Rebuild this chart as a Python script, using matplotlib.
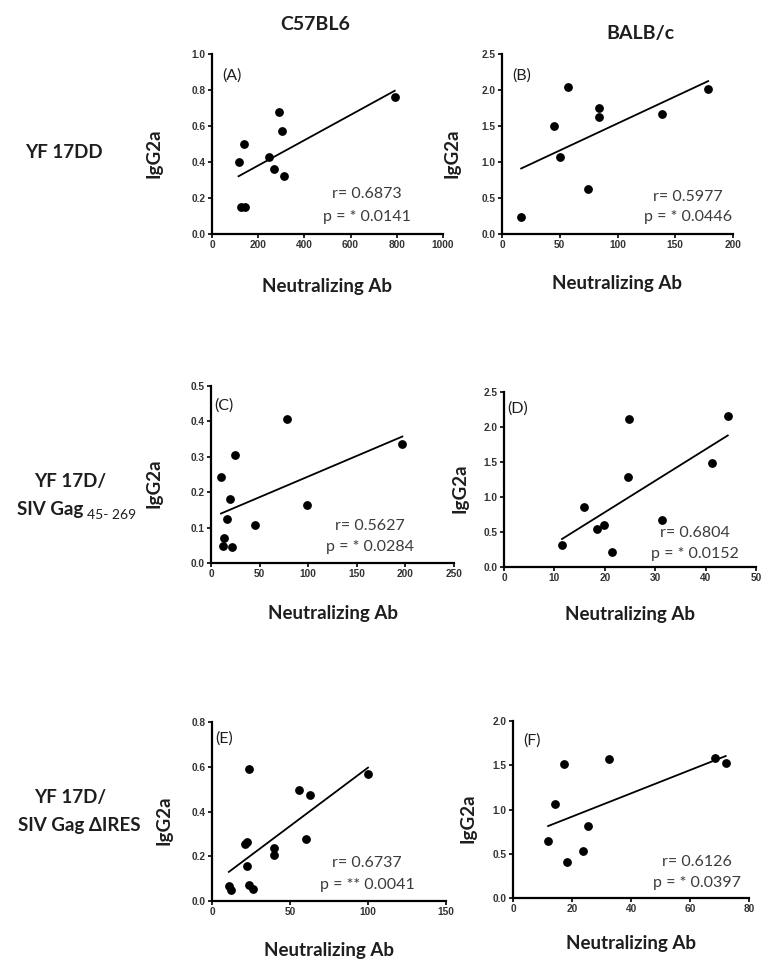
import numpy as np
import matplotlib
matplotlib.use("Agg")
import matplotlib.pyplot as plt

plt.rcParams['font.family'] = ['Lato', 'DejaVu Sans']

W, H = 770, 960

# values, one pair of lists per panel
a_x = [115, 137, 125, 145, 247, 268, 292, 301, 311, 791]
a_y = [0.40, 0.50, 0.15, 0.15, 0.43, 0.36, 0.68, 0.57, 0.32, 0.76]
b_x = [16.6, 45.3, 50.4, 57.3, 74.5, 83.7, 83.7, 138.4, 178.5]
b_y = [0.23, 1.50, 1.07, 2.04, 0.63, 1.75, 1.63, 1.67, 2.01]
c_x = [10.3, 25.0, 19.2, 16.5, 13.0, 12.0, 21.3, 45.0, 78.6, 98.8, 196.9]
c_y = [0.243, 0.306, 0.180, 0.123, 0.071, 0.048, 0.045, 0.108, 0.408, 0.164, 0.335]
d_x = [11.5, 15.8, 18.4, 19.8, 21.5, 24.6, 24.9, 31.4, 41.3, 44.4]
d_y = [0.31, 0.86, 0.54, 0.60, 0.21, 1.29, 2.11, 0.67, 1.48, 2.16]
e_x = [10.8, 12.1, 23.8, 21.4, 22.5, 22.3, 23.8, 26.2, 39.8, 39.8, 55.8, 63.0, 60.2, 100.0]
e_y = [0.066, 0.048, 0.589, 0.253, 0.262, 0.156, 0.072, 0.054, 0.237, 0.206, 0.498, 0.472, 0.277, 0.566]
f_x = [11.9, 14.3, 17.4, 18.3, 23.6, 25.4, 32.7, 68.4, 72.1]
f_y = [0.645, 1.058, 1.516, 0.405, 0.529, 0.81, 1.576, 1.584, 1.52]

r_text = ["r= 0.6873", "r= 0.5977", "r= 0.5627", "r= 0.6804", "r= 0.6737", "r= 0.6126"]
p_text = ["p = * 0.0141", "p = * 0.0446", "p = * 0.0284", "p = * 0.0152",
          "p = ** 0.0041", "p = * 0.0397"]
letters = ["(A)", "(B)", "(C)", "(D)", "(E)", "(F)"]

# axes limits / tick steps
xlims = [(1000, 200), (200, 50), (250, 50), (50, 10), (150, 50), (80, 20)]
ylims = [(1.0, 0.2), (2.5, 0.5), (0.5, 0.1), (2.5, 0.5), (0.8, 0.2), (2.0, 0.5)]

# layout in pixels: left, right, top, bottom
boxes = [(212, 443, 54, 234), (502, 733, 54, 234),
         (211, 454, 386, 563), (504, 756, 392, 567),
         (212, 446, 722, 901), (513, 749, 721, 898)]
ylab_x = [163, 460, 163, 468, 173, 476]
xlab_y = [278, 275, 605, 606, 942, 935]
txt_pos = [(0.67, 0.22, 0.094), (0.805, 0.205, 0.094), (0.654, 0.209, 0.09),
           (0.758, 0.194, 0.074), (0.662, 0.212, 0.089), (0.78, 0.203, 0.085)]
let_pos = [(0.043, 0.88), (0.043, 0.88), (0.012, 0.89),
           (0.012, 0.905), (0.013, 0.905), (0.043, 0.887)]

data = [(a_x, a_y), (b_x, b_y), (c_x, c_y), (d_x, d_y), (e_x, e_y), (f_x, f_y)]

fig = plt.figure(figsize=(W / 100, H / 100), dpi=100)
tick_font = dict(family='Liberation Sans', weight='bold', size=7.3, color='#333333')
dark = '#1e1e1e'

for i, (xs, ys) in enumerate(data):
    l, r, t, b = boxes[i]
    ax = fig.add_axes([l / W, 1 - b / H, (r - l) / W, (b - t) / H])
    xs = np.array(xs)
    ys = np.array(ys)
    ax.scatter(xs, ys, s=28, color='black', zorder=3, clip_on=False)
    k, c = np.polyfit(xs, ys, 1)
    xx = np.array([xs.min(), xs.max()])
    ax.plot(xx, k * xx + c, color='black', lw=1.3)

    xmax, xstep = xlims[i]
    ymax, ystep = ylims[i]
    ax.set_xlim(0, xmax)
    ax.set_ylim(0, ymax)
    ax.set_xticks(np.arange(0, xmax + xstep / 2, xstep))
    ax.set_yticks(np.arange(0, ymax + ystep / 2, ystep))
    ax.set_xticklabels([f"{v:g}" for v in ax.get_xticks()], fontdict=tick_font)
    ax.set_yticklabels([f"{v:.1f}" for v in ax.get_yticks()], fontdict=tick_font)
    for s in ['top', 'right']:
        ax.spines[s].set_visible(False)
    for s in ['left', 'bottom']:
        ax.spines[s].set_linewidth(1.6)
    ax.tick_params(length=3, width=1.2, pad=1.5)

    ax.set_xlabel("Neutralizing Ab", fontsize=13.5, fontweight='bold', color=dark)
    ax.set_ylabel("IgG2a", fontsize=13.5, fontweight='bold', color=dark)
    ax.xaxis.set_label_coords(0.5, (b - xlab_y[i]) / (b - t))
    ax.yaxis.set_label_coords((ylab_x[i] - l) / (r - l), 0.45)

    tx, ry, py = txt_pos[i]
    ax.text(tx, ry, r_text[i], transform=ax.transAxes, ha='center', va='center',
            fontsize=11.5, color='#3c3c3c')
    ax.text(tx, py, p_text[i], transform=ax.transAxes, ha='center', va='center',
            fontsize=11.5, color='#3c3c3c')
    lx, ly = let_pos[i]
    ax.text(lx, ly, letters[i], transform=ax.transAxes, ha='left', va='center',
            fontsize=11.5, color=dark)

# column headers
fig.text(315 / W, 1 - 25 / H, "C57BL6", ha='center', va='center',
         fontsize=14, fontweight='bold', color=dark)
fig.text(640 / W, 1 - 34 / H, "BALB/c", ha='center', va='center',
         fontsize=14, fontweight='bold', color=dark)

# row labels
row_font = dict(fontsize=13.5, fontweight='bold', color=dark)
fig.text(64 / W, 1 - 152 / H, "YF 17DD", ha='center', va='center', **row_font)
fig.text(70 / W, 1 - 482 / H, "YF 17D/", ha='center', va='center', **row_font)
fig.text(83 / W, 1 - 509 / H, "SIV Gag", ha='right', va='center', **row_font)
fig.text(87 / W, 1 - 515 / H, "45- 269", ha='left', va='center',
         fontsize=10, color=dark)
fig.text(70 / W, 1 - 797 / H, "YF 17D/", ha='center', va='center', **row_font)
fig.text(79 / W, 1 - 825 / H, "SIV Gag \u0394IRES", ha='center', va='center', **row_font)

fig.savefig("out.png", dpi=100)
